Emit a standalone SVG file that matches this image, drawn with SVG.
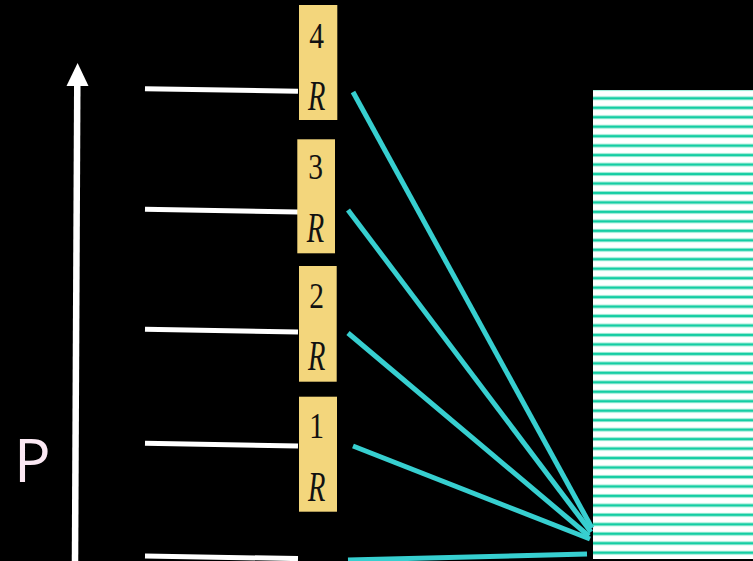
<svg xmlns="http://www.w3.org/2000/svg" width="753" height="561" viewBox="0 0 753 561">
  <style>
    .box { fill: #f3d67c; }
    .num { font-family: "Liberation Serif", serif; font-size: 36px; fill: #111; text-anchor: middle; }
    .r { font-family: "Liberation Serif", serif; font-style: italic; font-size: 42px; fill: #111; text-anchor: middle; }
    .level { stroke: #ffffff; stroke-width: 5; fill: none; }
    .conn { stroke: #37cfd0; stroke-width: 5; fill: none; }
  </style>
  <defs>
    <pattern id="stripes" patternUnits="userSpaceOnUse" x="0" y="93.567" width="20" height="9.467">
      <rect x="0" y="0" width="20" height="9.467" fill="#ffffff"/>
      <rect x="0" y="2.733" width="20" height="4" fill="#a6eedb"/>
      <rect x="0" y="3.633" width="20" height="2.2" fill="#14cda3"/>
    </pattern>
    <marker id="ahead" viewBox="0 0 10 10" refX="5" refY="0" markerWidth="10" markerHeight="10" markerUnits="userSpaceOnUse" orient="auto"/>
  </defs>
  <rect x="0" y="0" width="753" height="561" fill="#000000"/>

  <g id="axis">
    <line x1="75" y1="561" x2="77.3" y2="80" stroke="#ffffff" stroke-width="6.5"/>
    <polygon points="77.6,63 66.5,86 88.5,86" fill="#ffffff"/>
    <text x="14" y="482" font-family="'Open Sans', sans-serif" font-size="61" fill="#fbe8f3">P</text>
  </g>

  <g id="reservoir">
    <rect x="593" y="90" width="160" height="469" fill="url(#stripes)"/>
  </g>

  <g id="levels">
    <line class="level" x1="145" y1="88.7" x2="298" y2="91.3"/>
    <line class="level" x1="145" y1="209.3" x2="298" y2="212"/>
    <line class="level" x1="145" y1="329.3" x2="298" y2="332"/>
    <line class="level" x1="145" y1="443.3" x2="298" y2="446"/>
    <line class="level" x1="145" y1="556" x2="298" y2="558.6"/>
  </g>

  <g id="node-4">
    <rect class="box" x="299" y="5" width="38.3" height="115"/>
    <text class="num" transform="translate(316.7,48) scale(0.82,1)">4</text>
    <text class="r" transform="translate(316.7,110) scale(0.68,1)">R</text>
  </g>
  <g id="node-3">
    <rect class="box" x="297.3" y="139.3" width="37.7" height="114"/>
    <text class="num" transform="translate(315.5,179) scale(0.82,1)">3</text>
    <text class="r" transform="translate(315.5,241.5) scale(0.68,1)">R</text>
  </g>
  <g id="node-2">
    <rect class="box" x="299" y="266" width="37.7" height="115.7"/>
    <text class="num" transform="translate(316.7,308) scale(0.82,1)">2</text>
    <text class="r" transform="translate(316.7,370) scale(0.68,1)">R</text>
  </g>
  <g id="node-1">
    <rect class="box" x="299" y="396.7" width="38" height="115"/>
    <text class="num" transform="translate(316.7,438) scale(0.82,1)">1</text>
    <text class="r" transform="translate(316.7,500.5) scale(0.68,1)">R</text>
  </g>

  <g id="connectors">
    <line class="conn" x1="353" y1="92" x2="592" y2="528"/>
    <line class="conn" x1="348" y1="210" x2="591" y2="532"/>
    <line class="conn" x1="348" y1="333" x2="589" y2="536"/>
    <line class="conn" x1="353" y1="446" x2="590" y2="539"/>
    <line class="conn" x1="348" y1="560" x2="587" y2="554"/>
  </g>
</svg>
